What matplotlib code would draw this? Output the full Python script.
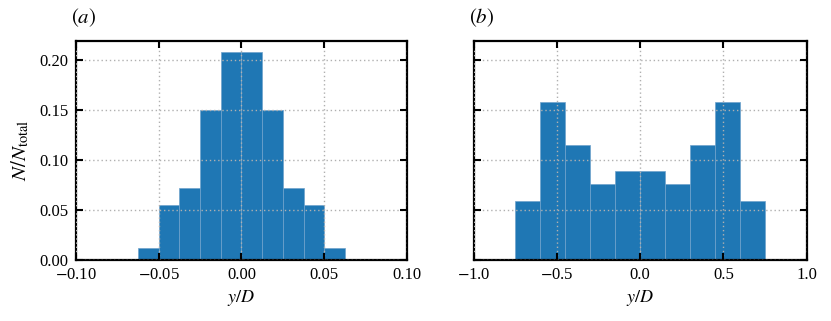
import numpy as np
import matplotlib
matplotlib.use("Agg")
import matplotlib.pyplot as plt

plt.rcParams['font.family'] = ['Liberation Serif', 'DejaVu Serif']
plt.rcParams['mathtext.fontset'] = 'stix'

# Panel (a) histogram
edges_a = np.array([-0.0625, -0.05, -0.0375, -0.025, -0.0125, 0.0, 0.0125, 0.025, 0.0375, 0.05, 0.0625])
heights_a = [0.0125, 0.055, 0.0725, 0.150, 0.208, 0.208, 0.150, 0.0725, 0.055, 0.0125]

# Panel (b) histogram
edges_b = np.array([-0.75, -0.6, -0.45, -0.3, -0.15, 0.0, 0.15, 0.3, 0.45, 0.6, 0.75])
heights_b = [0.0595, 0.158, 0.1155, 0.0765, 0.089, 0.089, 0.0765, 0.1155, 0.158, 0.0595]

xticks_a = [-0.10, -0.05, 0.00, 0.05, 0.10]
xticks_b = [-1.0, -0.5, 0.0, 0.5, 1.0]
yticks = [0.00, 0.05, 0.10, 0.15, 0.20]

fig = plt.figure(figsize=(8.31, 3.21), dpi=100)
W, H = 831, 321
ax_a = fig.add_axes([75.7 / W, 61 / H, 331.5 / W, 219 / H])
ax_b = fig.add_axes([473.7 / W, 61 / H, 333 / W, 219 / H])

for ax, edges, h, xt, xl, lab in [
    (ax_a, edges_a, heights_a, xticks_a, (-0.1, 0.1), '$(a)$'),
    (ax_b, edges_b, heights_b, xticks_b, (-1.0, 1.0), '$(b)$'),
]:
    ax.bar(edges[:-1], h, width=np.diff(edges), align='edge',
           color='#1f77b4', edgecolor='#6fa3cc', linewidth=0.5, zorder=1)
    ax.set_xlim(*xl)
    ax.set_ylim(0, 0.219)
    ax.set_xticks(xt)
    ax.set_yticks(yticks)
    ax.set_axisbelow(False)
    ax.grid(True, linestyle=(0, (1, 2)), color='#b0b0b0', linewidth=1.0, zorder=3)
    ax.tick_params(direction='in', top=True, right=True, length=5, width=1.5,
                   labelsize=12, pad=5)
    for s in ax.spines.values():
        s.set_linewidth(1.6)
    ax.set_xlabel('$y/D$', fontsize=13, labelpad=4)
    ax.text(-0.015, 1.055, lab, transform=ax.transAxes, fontsize=15, ha='left', va='bottom')

ax_a.set_yticklabels(['0.00', '0.05', '0.10', '0.15', '0.20'])
ax_a.set_xticklabels(['$-$0.10', '$-$0.05', '0.00', '0.05', '0.10'])
ax_b.set_xticklabels(['$-$1.0', '$-$0.5', '0.0', '0.5', '1.0'])
ax_b.set_yticklabels([])
ax_a.set_ylabel('$N/N_{\\mathrm{total}}$', fontsize=15, labelpad=6)

fig.savefig('out.png', dpi=100)
